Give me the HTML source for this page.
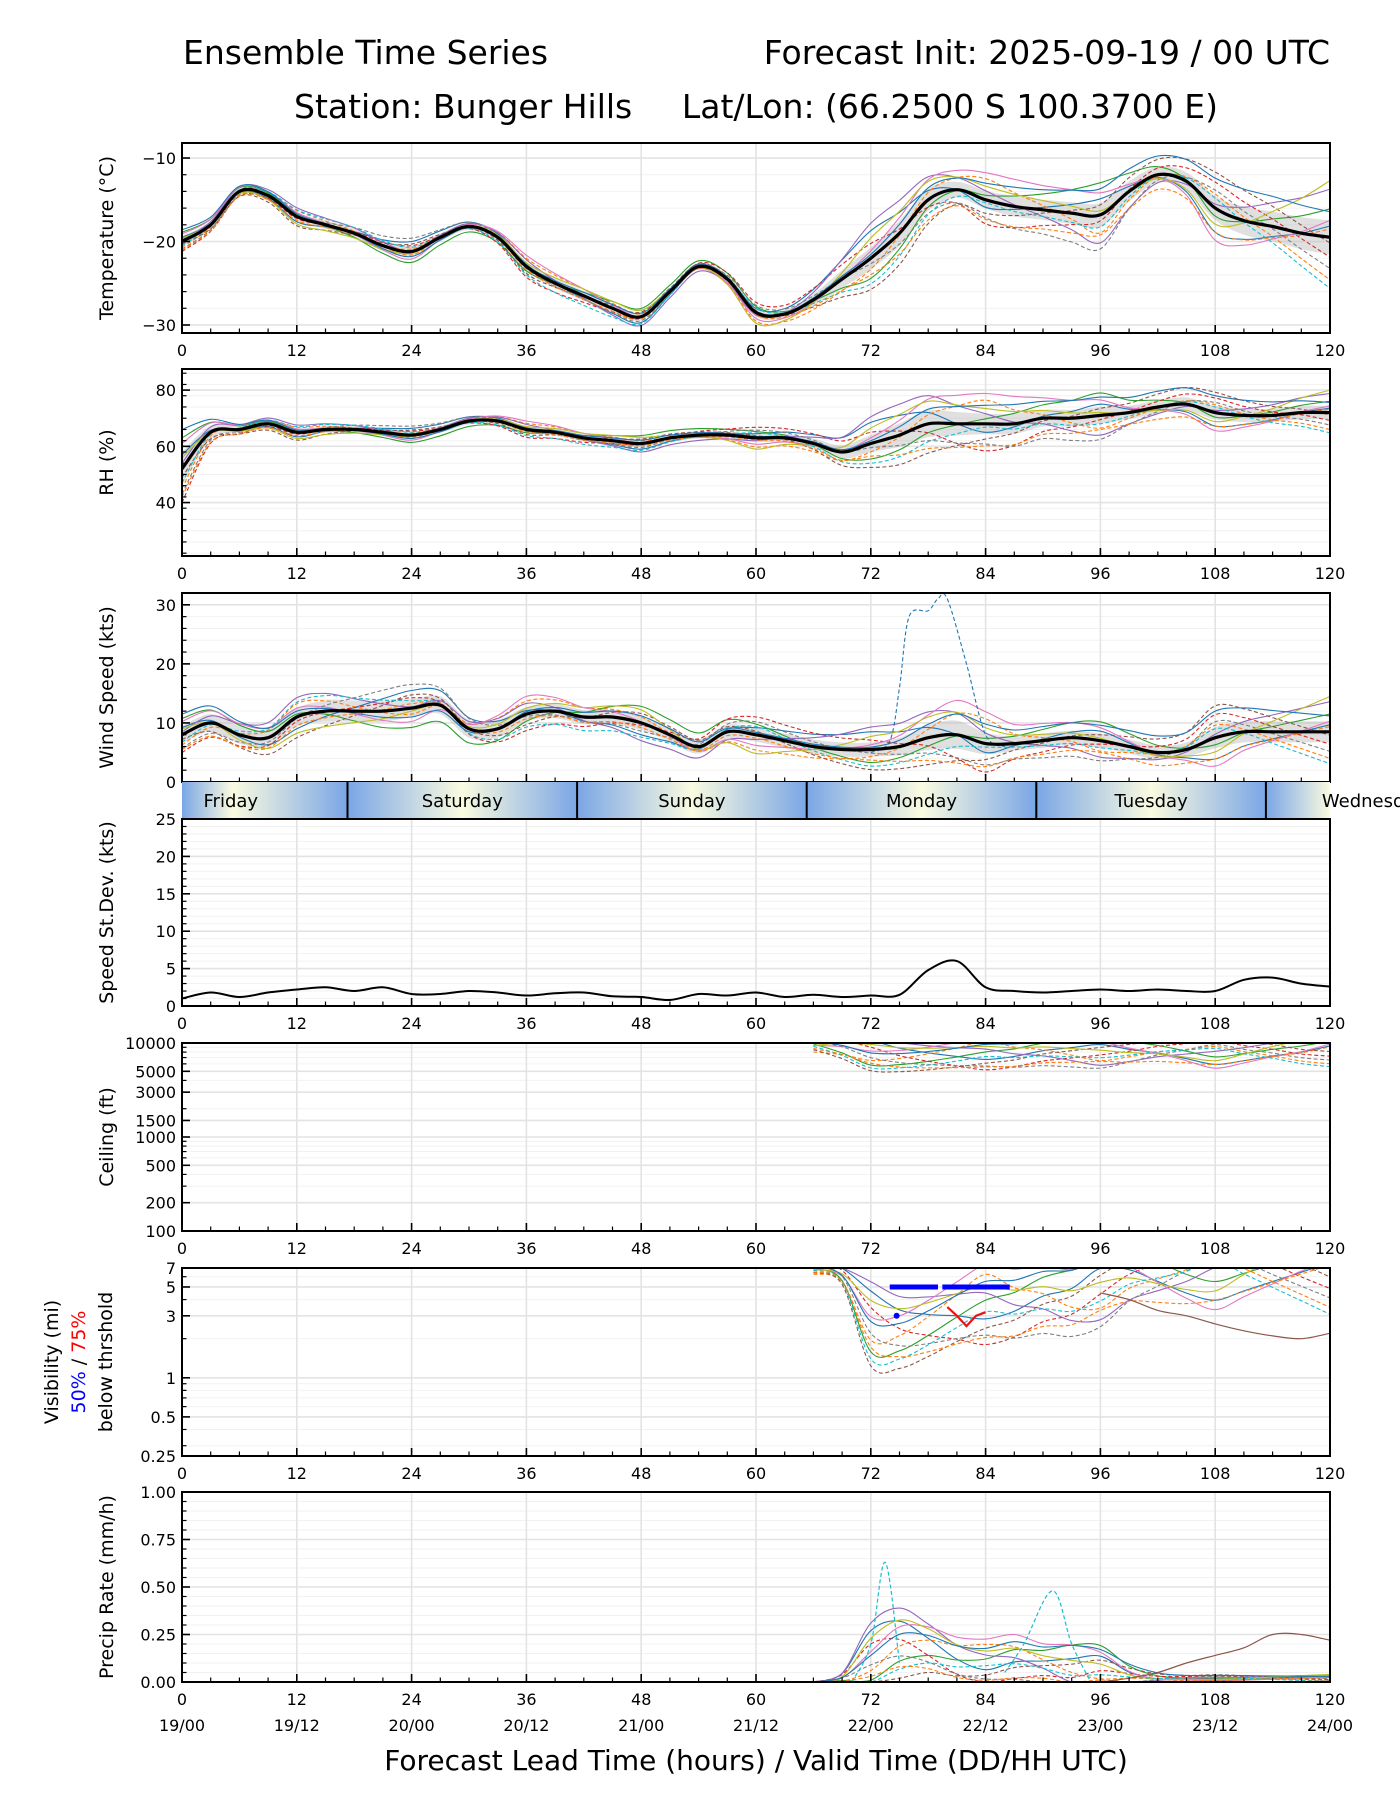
<!DOCTYPE html>
<html><head><meta charset="utf-8"><style>
html,body{margin:0;padding:0;background:#fff}
svg{display:block;font-family:"DejaVu Sans","Liberation Sans",sans-serif}
</style></head><body>
<svg id="fig" width="1400" height="1800" viewBox="0 0 1400 1800" xmlns="http://www.w3.org/2000/svg">
<text x="183" y="64" font-size="33">Ensemble Time Series</text>
<text x="1330" y="64" font-size="33" text-anchor="end">Forecast Init: 2025-09-19 / 00 UTC</text>
<text x="294" y="118" font-size="33">Station: Bunger Hills</text>
<text x="1218" y="118" font-size="33" text-anchor="end">Lat/Lon: (66.2500 S 100.3700 E)</text>
<text x="756" y="1770" font-size="28" text-anchor="middle">Forecast Lead Time (hours) / Valid Time (DD/HH UTC)</text>
<g id="root"></g>
</svg>
<script>
// ---------- data ----------
const hours3 = [0,3,6,9,12,15,18,21,24,27,30,33,36,39,42,45,48,51,54,57,60,63,66,69,72,75,78,81,84,87,90,93,96,99,102,105,108,111,114,117,120];
const tempMean = [-20,-18,-14,-14.5,-17,-18,-19,-20.5,-21.2,-19.5,-18.2,-19.5,-23,-25,-26.5,-28,-29,-26,-23,-24.5,-28.5,-28.7,-27,-24.5,-22,-19,-15,-13.8,-15,-15.8,-16.2,-16.6,-16.8,-14,-12,-12.8,-16,-17.5,-18.2,-19,-19.5];
const tempSpread = [1,0.8,0.7,0.7,0.8,0.8,0.9,1,1,0.8,0.7,0.8,0.9,1,1,0.9,0.7,0.6,0.6,0.7,0.8,0.8,1.2,1.8,2.2,2.5,2.2,1.6,1.8,2,2,2.2,2.4,2,1.6,1.8,2.4,2.8,3,3.2,3.4];
const rhMean = [52,65,66,68,65,66,66,65,64,66,69,69,66,65,63,62,61,63,64,64,63,63,61,58,61,64,68,68,68,68,70,70,71,72,74,75,72,71,71,72,72];
const rhSpread = [10,4,2,2,2,2,2,2,2,2,2,2,2,2,2,2,2,2,2,2,2.5,2.5,3,4,5,7,8,7,6,6,5,5,5,4,4,4,4,4,4,4,4];
const windMean = [8,10,8,7.5,11,12,12,12,12.5,13,9,9,11.5,12,11,11,10,8,6,8.5,8,7,6,5.5,5.5,6,7.5,8,6.5,6.5,7,7.5,7,6,5,5.5,7.5,8.5,8.5,8.5,8.5];
const windSpread = [2.5,2.5,2.5,2.5,2.5,3,3,3,2.5,2.5,2.5,2.5,2,2,2,2,2,2,2,2,2,2,2,2,2,2.5,3.5,4,3,2,2,2,2,2,2,2,3,3,3,3,3];
const windOutlierHours = [72,74,75,76,78,79,80,82,84,86];
const windOutlierVals = [5,7,16,28,29,31,31,20,8,6];
const sdevVals = [1,1.8,1.2,1.8,2.2,2.5,2,2.5,1.6,1.6,2,1.8,1.4,1.7,1.8,1.3,1.2,0.8,1.6,1.4,1.8,1.2,1.5,1.2,1.4,1.5,4.8,6,2.5,2,1.8,2,2.2,2,2.2,2,2,3.5,3.8,3,2.6];
const lateHours = [66,69,72,75,78,81,84,87,90,93,96,99,102,105,108,111,114,117,120];
const ceilMean = [10000,9000,7500,7000,7000,7200,7500,7500,8000,8000,8000,8000,8200,8000,7800,7800,8000,8000,8500];
const visMean = [7,6,2.5,2.2,2.5,3,3.5,3.5,4,4,5,6,6,6,6.5,6.5,6.5,6.5,6.5];
const visBrownHours = [96,99,102,105,108,111,114,117,120];
const visBrownVals = [4.5,4,3.3,3,2.6,2.3,2.1,2,2.2];
const vis50Hours = [74.5,75.5,76.5,77.5,78.5,80,81,82,83,84,85,86];
const vis50Vals = [5,5,5,5,5,5,5,5,5,5,5,5];
const vis75Hours = [80,81,82,83,84];
const vis75Vals = [3.5,3,2.5,3,3.2];
const precipMean = [0,0.02,0.12,0.2,0.18,0.12,0.1,0.12,0.1,0.08,0.08,0.04,0.02,0.02,0.02,0.02,0.02,0.02,0.02];
const precipSpread = [0,0.02,0.1,0.12,0.1,0.08,0.07,0.08,0.07,0.09,0.07,0.04,0.02,0.01,0.01,0.01,0.01,0.01,0.01];
const precipBrownVals = [0,0.02,0.05,0.1,0.14,0.18,0.25,0.25,0.22];
const precipCyanHours = [70,72,73.5,75,86,88,91,93,95];
const precipCyanVals = [0,0.2,0.63,0.1,0.05,0.2,0.48,0.2,0];
const memberHours = [0,12,24,36,48,60,72,84,96,108,120];
const memberDevs = [
 [0.5,-0.8,1.2,0.3,-1,0.6,1.5,-0.5,0.8,-1.2,0.4],
 [-0.7,0.9,-0.4,1.1,0.5,-1.3,-0.6,1.4,-0.9,0.7,-1.5],
 [1.1,0.2,-1.3,-0.6,1.4,0.9,-1.1,0.3,1.6,-0.4,1.0],
 [-1.2,-0.3,0.7,-1.4,-0.2,1.5,0.8,-1.6,-0.3,1.3,-0.7],
 [0.2,1.3,0.1,0.9,-1.5,-0.4,1.9,0.6,-1.4,0.2,1.7],
 [-0.3,-1.4,0.9,-0.9,0.8,0.3,-1.7,-0.9,0.5,1.8,-0.2],
 [0.9,0.6,-0.9,1.5,0.1,-0.9,0.4,1.8,1.1,-1.6,0.6],
 [-0.9,-0.1,1.6,-0.2,-0.7,1.1,-0.3,-1.2,-1.7,0.9,-1.1],
 [0.4,-1.1,-0.2,0.5,1.1,-1.6,1.1,0.9,0.2,-0.8,2.0],
 [-0.5,1.0,0.5,-1.1,-1.2,0.7,-1.4,-0.2,-0.6,0.5,-1.8],
 [1.4,0.4,-0.6,0.2,0.6,0.2,0.2,1.1,1.3,1.5,0.9],
 [-1.0,-0.6,0.3,-0.4,-0.4,-0.3,-0.9,-1.3,-1.0,-1.2,0.3]
];
const memberColors = ['#1f77b4','#ff7f0e','#2ca02c','#d62728','#9467bd','#8c564b','#e377c2','#7f7f7f','#bcbd22','#17becf','#1f77b4','#ff7f0e'];
const dayNames = ['Friday','Saturday','Sunday','Monday','Tuesday','Wednesday'];
const dayBoundaries = [17.3,41.3,65.3,89.3,113.3];
const xTickHours = [0,12,24,36,48,60,72,84,96,108,120];
const validLabels = ['19/00','19/12','20/00','20/12','21/00','21/12','22/00','22/12','23/00','23/12','24/00'];

// ---------- helpers ----------
const NS='http://www.w3.org/2000/svg';
const root=document.getElementById('root');
const X0=182,X1=1330;
const X=h=>X0+h/120*(X1-X0);
function mk(tag,attrs,parent){const e=document.createElementNS(NS,tag);for(const k in attrs)e.setAttribute(k,attrs[k]);(parent||root).appendChild(e);return e;}
function lin(d0,d1,top,bot){return v=>bot-(v-d0)/(d1-d0)*(bot-top);}
function lg(d0,d1,top,bot){return v=>bot-(Math.log10(v)-Math.log10(d0))/(Math.log10(d1)-Math.log10(d0))*(bot-top);}
function interp(hs,vs,h){if(h<=hs[0])return vs[0];for(let i=1;i<hs.length;i++){if(h<=hs[i]){const t=(h-hs[i-1])/(hs[i]-hs[i-1]);return vs[i-1]+t*(vs[i]-vs[i-1]);}}return vs[vs.length-1];}
function smooth(pts){if(pts.length<2)return '';let d='M'+pts[0][0].toFixed(1)+','+pts[0][1].toFixed(1);for(let i=0;i<pts.length-1;i++){const p0=pts[i-1]||pts[i],p1=pts[i],p2=pts[i+1],p3=pts[i+2]||p2;const c1x=p1[0]+(p2[0]-p0[0])/6,c1y=p1[1]+(p2[1]-p0[1])/6,c2x=p2[0]-(p3[0]-p1[0])/6,c2y=p2[1]-(p3[1]-p1[1])/6;d+='C'+c1x.toFixed(1)+','+c1y.toFixed(1)+' '+c2x.toFixed(1)+','+c2y.toFixed(1)+' '+p2[0].toFixed(1)+','+p2[1].toFixed(1);}return d;}

let clipN=0;
function panel(name,top,bot,yTicks,yFmt,Y,minorTicks,ylabel,noXLabels){
  const g=mk('g',{});
  
  
  const id='clip'+(clipN++);
  const cp=mk('clipPath',{id:id},g);mk('rect',{x:X0,y:top,width:X1-X0,height:bot-top},cp);
  const grid=mk('g',{},g);
  
  
  (minorTicks||[]).forEach(v=>{const y=Y(v);mk('line',{x1:X0,x2:X1,y1:y,y2:y,stroke:'#f2f2f2','stroke-width':1},grid);});
  yTicks.forEach(v=>{const y=Y(v);mk('line',{x1:X0,x2:X1,y1:y,y2:y,stroke:'#e3e3e3','stroke-width':1.6},grid);});
  xTickHours.forEach(h=>{mk('line',{x1:X(h),x2:X(h),y1:top,y2:bot,stroke:'#e3e3e3','stroke-width':1.6},grid);});
  const plot=mk('g',{'clip-path':'url(#'+id+')'},g);
  
  
  mk('rect',{x:X0,y:top,width:X1-X0,height:bot-top,fill:'none',stroke:'#000','stroke-width':2},g);
  for(let h=0;h<=120;h+=3){const maj=h%12===0;mk('line',{x1:X(h),x2:X(h),y1:bot,y2:bot-(maj?8:4.5),stroke:'#000','stroke-width':maj?1.6:1.2},g);}
  if(!noXLabels) xTickHours.forEach(h=>{const t=mk('text',{x:X(h),y:bot+23,'font-size':16,'text-anchor':'middle'},g);t.textContent=h;});
  (minorTicks||[]).forEach(v=>{mk('line',{x1:X0,x2:X0+4.5,y1:Y(v),y2:Y(v),stroke:'#000','stroke-width':1.2},g);});
  yTicks.forEach(v=>{const y=Y(v);mk('line',{x1:X0,x2:X0+8,y1:y,y2:y,stroke:'#000','stroke-width':1.6},g);const t=mk('text',{x:X0-6,y:y+6,'font-size':16,'text-anchor':'end'},g);t.textContent=yFmt(v);});
  if(ylabel){const cy=(top+bot)/2;const t=mk('text',{x:0,y:0,'font-size':19,'text-anchor':'middle',transform:'translate(113,'+cy+') rotate(-90)'},g);t.textContent=ylabel;}
  return plot;
}
function drawMembers(plot,hs,mean,spread,Yf,transform,name){
  memberDevs.forEach((dev,k)=>{
    const pts=[];
    hs.forEach((h,i)=>{let v=transform(mean[i],interp(memberHours,dev,h),spread[i],k);pts.push([X(h),Yf(v)]);});
    const p=mk('path',{d:smooth(pts),fill:'none',stroke:memberColors[k],'stroke-width':1.1,'stroke-dasharray':k%2?'4,2.5':'none'},plot);
    
    
  });
}
function drawBandMean(plot,hs,mean,spread,Yf,name){
  const up=hs.map((h,i)=>[X(h),Yf(mean[i]+spread[i]*0.6)]);
  const lo=hs.map((h,i)=>[X(h),Yf(mean[i]-spread[i]*0.6)]).reverse();
  const b=mk('path',{d:smooth(up)+'L'+smooth(lo).slice(1)+'Z',fill:'#bbbbbb','fill-opacity':0.45,stroke:'none'},plot);
  
  
  return ()=>{const m=mk('path',{d:smooth(hs.map((h,i)=>[X(h),Yf(mean[i])])),fill:'none',stroke:'#000','stroke-width':3.2},plot);
  
  };
}
const addT=(m,d,s)=>m+d*s;

// ---------- Temperature ----------
{const Y=lin(-30.96,-8.2,143,333);
 const minor=[];for(let v=-30;v<=-10;v+=2)if(v%10)minor.push(v);
 const p=panel('temperature',143,333,[-10,-20,-30],v=>'\u2212'+Math.abs(v),Y,minor,'Temperature (°C)');
 const fin=drawBandMean(p,hours3,tempMean,tempSpread,Y,'temperature');
 drawMembers(p,hours3,tempMean,tempSpread,Y,addT,'temperature');fin();}
// ---------- RH ----------
{const Y=lin(21,87.5,369,556);
 const minor=[];for(let v=22;v<=86;v+=4)if(v%20)minor.push(v);
 const p=panel('rh',369,556,[40,60,80],v=>v,Y,minor,'RH (%)');
 const fin=drawBandMean(p,hours3,rhMean,rhSpread,Y,'rh');
 drawMembers(p,hours3,rhMean,rhSpread,Y,addT,'rh');fin();}
// ---------- Wind ----------
{const Y=lin(0,32,593,782);
 const minor=[];for(let v=2;v<=32;v+=2)if(v%10)minor.push(v);
 const p=panel('wind-speed',593,782,[0,10,20,30],v=>v,Y,minor,'Wind Speed (kts)',true);
 const fin=drawBandMean(p,hours3,windMean,windSpread,Y,'wind');
 drawMembers(p,hours3,windMean,windSpread,Y,(m,d,s)=>Math.max(0.3,m+d*s),'wind');
 const o=mk('path',{d:smooth(windOutlierHours.map((h,i)=>[X(h),Y(windOutlierVals[i])])),fill:'none',stroke:'#1f77b4','stroke-width':1.1,'stroke-dasharray':'4,2.5'},p);
 
 
 fin();}
// ---------- Day bar ----------
{const g=mk('g',{});
 
 
 const grad=mk('linearGradient',{id:'dayGrad',x1:X0,x2:X1,y1:0,y2:0,gradientUnits:'userSpaceOnUse'},g);
 const stops=[];
 [-6.7,...dayBoundaries,137.3].forEach(b=>{stops.push([b,'#7aa6e6']);stops.push([b+12,'#fafbe0']);});
 stops.sort((a,b)=>a[0]-b[0]).forEach(s=>{mk('stop',{offset:Math.min(1,Math.max(0,s[0]/120)),'stop-color':s[1]},grad);});
 mk('rect',{x:X0,y:782,width:X1-X0,height:37,fill:'url(#dayGrad)'},g);
 dayBoundaries.forEach(b=>{const l=mk('line',{x1:X(b),x2:X(b),y1:782,y2:819,stroke:'#000','stroke-width':2},g);});
 dayNames.forEach((n,i)=>{const c=i===0?5.1:dayBoundaries[i-1]+12;const t=mk('text',{x:X(c),y:807,'font-size':18,'text-anchor':i===5?'start':'middle'},g);if(i===5)t.setAttribute('x',X(dayBoundaries[4])+56);t.textContent=n;});
}
// ---------- Std dev ----------
{const Y=lin(0,25,819,1006);
 const minor=[];for(let v=1;v<25;v++)if(v%5)minor.push(v);
 const p=panel('speed-stdev',819,1006,[0,5,10,15,20,25],v=>v,Y,minor,'Speed St.Dev. (kts)');
 const l=mk('path',{d:smooth(hours3.map((h,i)=>[X(h),Y(sdevVals[i])])),fill:'none',stroke:'#000','stroke-width':2},p);
 
 }
// ---------- Ceiling ----------
{const Y=lg(100,10000,1043,1231);
 const minor=[300,400,600,700,800,900,2000,4000,6000,7000,8000,9000];
 const p=panel('ceiling',1043,1231,[100,200,500,1000,1500,3000,5000,10000],v=>v,Y,minor,'Ceiling (ft)');
 drawMembers(p,lateHours,ceilMean,lateHours.map(()=>0.1),Y,(m,d,s)=>Math.min(10500,Math.pow(10,Math.log10(m)+d*s)),'ceiling');}
// ---------- Visibility ----------
{const Y=lg(0.25,7,1268,1456);
 const minor=[0.3,0.4,0.6,0.7,0.8,0.9,2,4,6];
 const p=panel('visibility',1268,1456,[0.25,0.5,1,3,5,7],v=>v,Y,minor,null);
 drawMembers(p,lateHours,visMean,lateHours.map((h,i)=>i<2?0.05:0.18),Y,(m,d,s)=>Math.min(8,Math.pow(10,Math.log10(m)+d*s)),'visibility');
 const b=mk('path',{d:smooth(visBrownHours.map((h,i)=>[X(h),Y(visBrownVals[i])])),fill:'none',stroke:'#8c564b','stroke-width':1.2},p);
 
 const r=mk('path',{d:vis75Hours.map((h,i)=>(i?'L':'M')+X(h)+','+Y(vis75Vals[i])).join(''),fill:'none',stroke:'#ee1111','stroke-width':2.2},p);
 
 vis50Hours.forEach((h,i)=>{const c=mk('rect',{x:X(h)-5,y:Y(vis50Vals[i])-2.5,width:10,height:5,fill:'#0000ff'},p);});
 const d=mk('circle',{cx:X(74.7),cy:Y(3),r:3,fill:'#0000ff'},p);
 const cy=1362;
 const t1=mk('text',{x:0,y:0,'font-size':19,'text-anchor':'middle',transform:'translate(58,'+cy+') rotate(-90)'});t1.textContent='Visibility (mi)';
 const t2=mk('text',{x:0,y:0,'font-size':19,'text-anchor':'middle',transform:'translate(85,'+cy+') rotate(-90)'});t2.innerHTML='<tspan fill="#0000ff">50%</tspan> / <tspan fill="#ff0000">75%</tspan>';
 const t3=mk('text',{x:0,y:0,'font-size':19,'text-anchor':'middle',transform:'translate(112,'+cy+') rotate(-90)'});t3.textContent='below thrshold';}
// ---------- Precip ----------
{const Y=lin(0,1,1492,1682);
 const minor=[0.05,0.1,0.15,0.2,0.3,0.35,0.4,0.45,0.55,0.6,0.65,0.7,0.8,0.85,0.9,0.95];
 const p=panel('precip-rate',1492,1682,[0,0.25,0.5,0.75,1],v=>v.toFixed(2),Y,minor,'Precip Rate (mm/h)');
 drawMembers(p,lateHours,precipMean,precipSpread,Y,(m,d,s)=>Math.max(0,m+d*s),'precip');
 const b=mk('path',{d:smooth(visBrownHours.map((h,i)=>[X(h),Y(precipBrownVals[i])])),fill:'none',stroke:'#8c564b','stroke-width':1.2},p);
 
 const c=mk('path',{d:smooth(precipCyanHours.slice(0,4).map((h,i)=>[X(h),Y(precipCyanVals[i])]))+smooth(precipCyanHours.slice(4).map((h,i)=>[X(h),Y(precipCyanVals[i+4])])),fill:'none',stroke:'#17becf','stroke-width':1.2,'stroke-dasharray':'4,2.5'},p);
 
 validLabels.forEach((s,i)=>{const t=mk('text',{x:X(xTickHours[i]),y:1731,'font-size':16,'text-anchor':'middle'});t.textContent=s;});}
</script>
</body></html>
